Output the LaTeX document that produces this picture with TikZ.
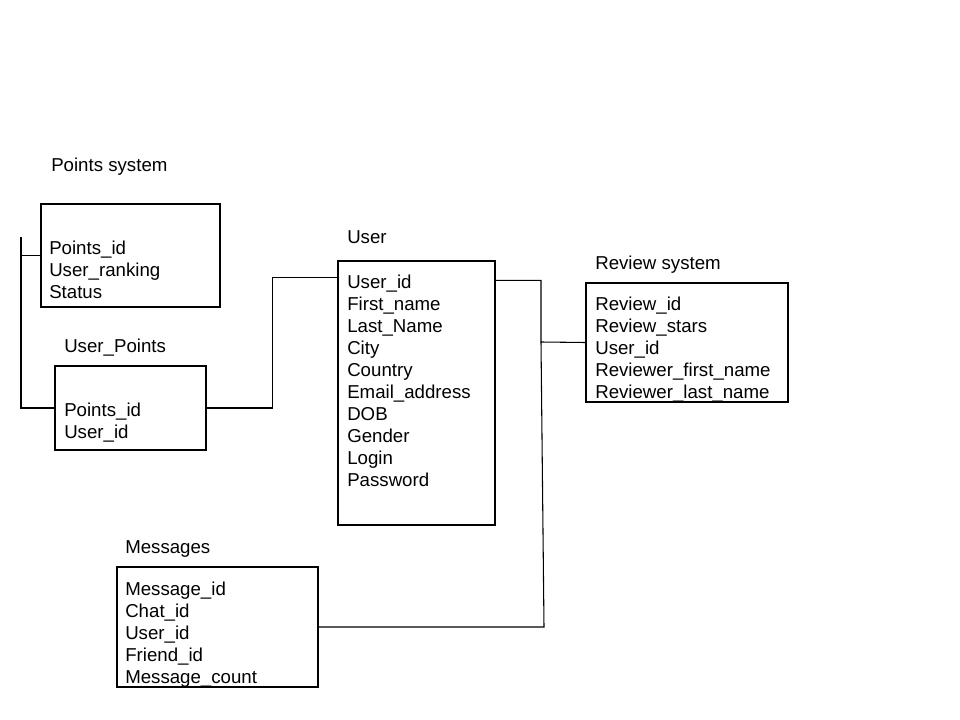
\documentclass[tikz,border=0pt]{standalone}
\usepackage{fontspec}
\setmainfont{Liberation Sans}
\usetikzlibrary{fit}

\tikzset{
  table/.style={draw, line width=0.8pt, inner sep=0pt},
  title/.style={anchor=base west, inner sep=0pt,
                font=\fontsize{14}{16.5}\selectfont},
  rows/.style={anchor=north west, inner sep=0pt, align=left,
               font=\fontsize{14}{16.5}\selectfont},
  link/.style={line width=0.8pt}
}

\begin{document}
\begin{tikzpicture}[x=0.75pt, y=-0.75pt]
    \useasboundingbox (0,0) rectangle (960,720);
    % Add the tables
    \node[table, fit={(41,204) (220,307)}] (pts) {};
    \node[table, fit={(55,366) (206,450)}] (upts) {};
    \node[table, fit={(338,261) (495,525)}] (user) {};
    \node[table, fit={(586,283) (788,402)}] (rev) {};
    \node[table, fit={(117,567) (318,687)}] (msgs) {};
    % Titles
    \node[title] (ptstitle) at (51,172) {Points system};
    \node[title] (uptstitle) at (64,352) {User\_Points};
    \node[title] (usertitle) at (347,244) {User};
    \node[title] (revtitle) at (595,270) {Review system};
    \node[title] (msgstitle) at (125,553) {Messages};
    % Fields
    \node[rows] (ptsrows) at (49,240.5) {Points\_id\\User\_ranking\\Status};
    \node[rows] (uptsrows) at (64,402.5) {Points\_id\\User\_id};
    \node[rows] (userrows) at (347,274.5) {User\_id\\First\_name\\Last\_Name\\City\\Country\\Email\_address\\DOB\\Gender\\Login\\Password};
    \node[rows] (revrows) at (595,296.5) {Review\_id\\Review\_stars\\User\_id\\Reviewer\_first\_name\\Reviewer\_last\_name};
    \node[rows] (msgsrows) at (125,581.5) {Message\_id\\Chat\_id\\User\_id\\Friend\_id\\Message\_count};
    % Connect the tables
    \coordinate (ltop) at (21,237);
    \coordinate (uin) at ([shift={(0,17)}]user.north west);
    \coordinate (uout) at ([shift={(0,20)}]user.north east);
    \coordinate (rjoin) at (541,342);
    \coordinate (mjoin) at (544,627);
    \draw[link] (ltop) |- (upts.west);
    \draw[link] (pts.west) -- (pts.west -| ltop);
    \draw[link] (upts.east) -- ++(66,0) |- (uin);
    \draw[link] (uout) -| (rjoin) -- (rev.west);
    \draw[link] (rjoin) -- (mjoin) -- (msgs.east);
\end{tikzpicture}
\end{document}
